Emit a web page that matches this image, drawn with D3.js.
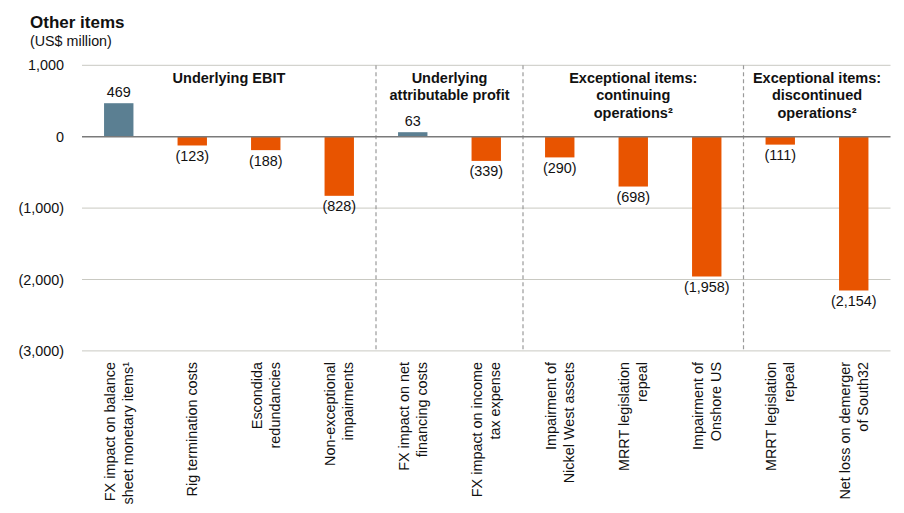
<!DOCTYPE html>
<html>
<head>
<meta charset="utf-8">
<script src="https://cdn.jsdelivr.net/npm/d3@7/dist/d3.min.js"></script>
<style>
  body { margin: 0; background: #fff; }
  svg { display: block; font-family: "Liberation Sans", Arial, sans-serif; }
</style>
</head>
<body>
<svg id="chart" width="904" height="513"></svg>
<script>
const categories = [
  ["FX impact on balance", "sheet monetary items\u00b9"],
  ["Rig termination costs"],
  ["Escondida", "redundancies"],
  ["Non-exceptional", "impairments"],
  ["FX impact on net", "financing costs"],
  ["FX impact on income", "tax expense"],
  ["Impairment of", "Nickel West assets"],
  ["MRRT legislation", "repeal"],
  ["Impairment of", "Onshore US"],
  ["MRRT legislation", "repeal"],
  ["Net loss on demerger", "of South32"]
];
const values = [469, -123, -188, -828, 63, -339, -290, -698, -1958, -111, -2154];
const valueLabels = ["469", "(123)", "(188)", "(828)", "63", "(339)", "(290)", "(698)", "(1,958)", "(111)", "(2,154)"];
const yTicks = [1000, 0, -1000, -2000, -3000];
const yTickLabels = ["1,000", "0", "(1,000)", "(2,000)", "(3,000)"];
const groups = [
  { lines: ["Underlying EBIT"], start: 0, end: 3 },
  { lines: ["Underlying", "attributable profit"], start: 4, end: 5 },
  { lines: ["Exceptional items:", "continuing", "operations\u00b2"], start: 6, end: 8 },
  { lines: ["Exceptional items:", "discontinued", "operations\u00b2"], start: 9, end: 10 }
];

(function () {
const svg = d3.select("#chart");
const mLeft = 82, mRight = 890.5, mTop = 65.3, mBottom = 350.9;

const x = d3.scaleBand().domain(d3.range(values.length)).range([mLeft, mRight]).padding(0);
const y = d3.scaleLinear().domain([-3000, 1000]).range([mBottom, mTop]);
const barW = x.bandwidth() * 0.4;

// Title
svg.append("text").attr("x", 30).attr("y", 28)
  .attr("font-size", 17).attr("font-weight", "bold").attr("fill", "#111").text("Other items");
svg.append("text").attr("x", 30).attr("y", 46)
  .attr("font-size", 14.3).attr("fill", "#111").text("(US$ million)");

// Gridlines
svg.append("g").selectAll("line").data(yTicks.filter(t => t !== 0)).join("line")
  .attr("x1", mLeft).attr("x2", mRight)
  .attr("y1", d => y(d)).attr("y2", d => y(d))
  .attr("stroke", "#c9c9c2").attr("stroke-width", 1);

// Y tick labels
svg.append("g").selectAll("text").data(yTicks).join("text")
  .attr("x", 64).attr("y", d => y(d)).attr("dy", "0.35em")
  .attr("text-anchor", "end").attr("font-size", 14.4).attr("fill", "#111")
  .text((d, i) => yTickLabels[i]);

// Dashed separators
const seps = groups.slice(1).map(g => g.start);
svg.append("g").selectAll("line").data(seps).join("line")
  .attr("x1", d => x(d)).attr("x2", d => x(d))
  .attr("y1", y(1000)).attr("y2", y(-3000))
  .attr("stroke", "#9a9a9a").attr("stroke-width", 1.2).attr("stroke-dasharray", "4,3");

// Bars
svg.append("g").selectAll("rect").data(values).join("rect")
  .attr("x", (d, i) => x(i) + x.bandwidth() / 2 - barW / 2)
  .attr("width", barW)
  .attr("y", d => y(Math.max(0, d)))
  .attr("height", d => Math.abs(y(d) - y(0)))
  .attr("fill", d => d >= 0 ? "#5b7f92" : "#e85400");

// Zero line
svg.append("line").attr("x1", mLeft).attr("x2", mRight)
  .attr("y1", y(0)).attr("y2", y(0))
  .attr("stroke", "#7a7a7a").attr("stroke-width", 1.5);

// Value labels
svg.append("g").selectAll("text").data(values).join("text")
  .attr("x", (d, i) => x(i) + x.bandwidth() / 2)
  .attr("y", d => d >= 0 ? y(d) - 6 : y(d) + 15.5)
  .attr("text-anchor", "middle").attr("font-size", 14.4).attr("fill", "#111")
  .text((d, i) => valueLabels[i]);

// Group headers
groups.forEach(g => {
  const cx = (x(g.start) + x(g.end) + x.bandwidth()) / 2;
  const t = svg.append("text").attr("text-anchor", "middle")
    .attr("font-size", 14.5).attr("font-weight", "bold").attr("fill", "#111");
  g.lines.forEach((ln, j) => {
    t.append("tspan").attr("x", cx).attr("y", 83 + j * 17.3).text(ln);
  });
});

// X labels (rotated)
const lh = 18;
categories.forEach((lines, i) => {
  const cx = x(i) + x.bandwidth() / 2;
  const g = svg.append("g").attr("transform", `translate(${cx},362) rotate(-90)`);
  lines.forEach((ln, j) => {
    g.append("text").attr("x", 0).attr("y", (j - (lines.length - 1) / 2) * lh)
      .attr("dy", "0.35em").attr("text-anchor", "end")
      .attr("font-size", 14.4).attr("fill", "#111").text(ln);
  });
});
})();
</script>
</body>
</html>
